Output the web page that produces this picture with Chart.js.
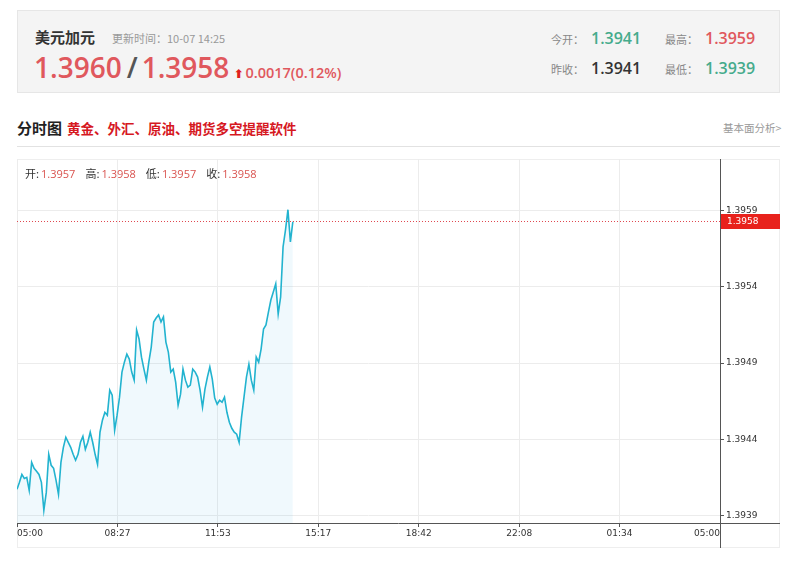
<!DOCTYPE html>
<html>
<head>
<meta charset="utf-8">
<script src="https://cdn.jsdelivr.net/npm/chart.js@4/dist/chart.umd.min.js"></script>
<style>
  body { margin: 0; background: #fff; font-family: "Open Sans", "Noto Sans CJK SC", sans-serif; }
  .abs { position: absolute; white-space: nowrap; }
  #quote { left: 17px; top: 10px; width: 763px; height: 83px; box-sizing: border-box;
           background: #f4f4f4; border: 1px solid #e6e6e6; }
  .name { left: 35px; top: 27px; font: bold 15px "Noto Sans CJK SC"; color: #333; line-height: 20px; }
  .upd  { left: 112px; top: 30px; font: 11px "Noto Sans CJK SC"; color: #999; line-height: 16px; }
  .big  { left: 34px; top: 48px; font: 600 28px "Open Sans"; color: #e0585d; line-height: 38px; }
  .big .sl { color: #555; margin: 0 4px 0 5px; }
  .chg  { font: 600 14.5px "Open Sans"; color: #e0585d; }
  .arr  { font: bold 12px "DejaVu Sans"; color: #e0201c; margin: 0 2px 0 4px; }
  .lab  { font: 11px "Noto Sans CJK SC"; color: #888; line-height: 20px; }
  .val  { font: 600 16px "Open Sans"; line-height: 20px; }
  .green { color: #45ab8c; } .red { color: #e0585d; } .dark { color: #333; }
  .title { left: 17px; top: 117px; font: bold 15px "Noto Sans CJK SC"; color: #222; line-height: 22px; }
  .title .ad { color: #d6181f; font-size: 13.5px; margin-left: 5px; }
  .more { left: 723px; top: 121px; font: 10.5px "Noto Sans CJK SC"; color: #999; line-height: 14px; }
  #sep { left: 17px; top: 146px; width: 763px; height: 1px; background: #e2e2e2; }
  #box { left: 17px; top: 159px; width: 763px; height: 389px; box-sizing: border-box; border: 1px solid #eee; }
  #wrap { left: 17px; top: 159px; width: 763px; height: 389px; }
  .ohlc { left: 25px; top: 166px; font: 11px "Noto Sans CJK SC"; color: #333; line-height: 14px; }
  .ohlc span.v { font-family: "Open Sans"; color: #d9534f; margin: 0 10px 0 2px; }
</style>
</head>
<body>
<div id="quote" class="abs"></div>
<div class="abs name">美元加元</div>
<div class="abs upd">更新时间：10-07 14:25</div>
<div class="abs big">1.3960<span class="sl">/</span>1.3958<span class="arr">⬆</span><span class="chg">0.0017(0.12%)</span></div>
<div class="abs lab" style="left:551px;top:29px">今开：</div>
<div class="abs val green" style="left:591px;top:28px">1.3941</div>
<div class="abs lab" style="left:665px;top:29px">最高：</div>
<div class="abs val red" style="left:705px;top:28px">1.3959</div>
<div class="abs lab" style="left:551px;top:59px">昨收：</div>
<div class="abs val dark" style="left:591px;top:58px">1.3941</div>
<div class="abs lab" style="left:665px;top:59px">最低：</div>
<div class="abs val green" style="left:705px;top:58px">1.3939</div>

<div class="abs title">分时图<span class="ad">黄金、外汇、原油、期货多空提醒软件</span></div>
<div class="abs more">基本面分析&gt;</div>
<div id="sep" class="abs"></div>

<div id="box" class="abs"></div>
<div id="wrap" class="abs"><canvas id="chart" width="763" height="389"></canvas></div>
<div class="abs ohlc">开:<span class="v">1.3957</span>高:<span class="v">1.3958</span>低:<span class="v">1.3957</span>收:<span class="v">1.3958</span></div>

<script>
/* ── Data ─────────────────────────────────────────────────────────────── */
// minutes since 05:00, one price every 5 minutes up to 14:25
const STEP_MIN = 5;
const prices = [
  1.394041, 1.394087, 1.394139, 1.394113, 1.394120, 1.394034, 1.394218, 1.394179, 1.394159, 1.394139,
  1.394087, 1.393903, 1.394021, 1.394271, 1.394199, 1.394179, 1.394100, 1.394008, 1.394218, 1.394317,
  1.394383, 1.394350, 1.394317, 1.394271, 1.394232, 1.394271, 1.394350, 1.394389, 1.394304, 1.394350,
  1.394416, 1.394350, 1.394271, 1.394205, 1.394416, 1.394495, 1.394547, 1.394528, 1.394692, 1.394659,
  1.394429, 1.394528, 1.394646, 1.394811, 1.394876, 1.394929, 1.394896, 1.394811, 1.394758, 1.395087,
  1.395028, 1.394909, 1.394830, 1.394758, 1.394876, 1.394975, 1.395140, 1.395166, 1.395186, 1.395140,
  1.395173, 1.395008, 1.394942, 1.394811, 1.394830, 1.394745, 1.394593, 1.394666, 1.394830, 1.394758,
  1.394712, 1.394725, 1.394830, 1.394811, 1.394778, 1.394692, 1.394580, 1.394699, 1.394778, 1.394844,
  1.394765, 1.394640, 1.394600, 1.394626, 1.394613, 1.394646, 1.394547, 1.394482, 1.394442, 1.394416,
  1.394403, 1.394350, 1.394515, 1.394646, 1.394778, 1.394863, 1.394758, 1.394692, 1.394909, 1.394876,
  1.394962, 1.395094, 1.395120, 1.395205, 1.395284, 1.395337, 1.395390, 1.395192, 1.395304, 1.395633,
  1.395745, 1.395877, 1.395666, 1.395798,
];
const lastPrice = 1.3958;
const dayMinutes = 1440;
const xTickLabels = ['05:00', '08:27', '11:53', '15:17', '18:42', '22:08', '01:34', '05:00'];
const yTicks = [1.39387, 1.39437, 1.39487, 1.39537, 1.39587];
const yMin = 1.39382;
const yMax = 1.39621;

/* ── Helpers ──────────────────────────────────────────────────────────── */
const tickFont = { family: 'DejaVu Sans', size: 9 };
const axisColor = '#555';

// full-length axis lines, last-price dotted line and its red tag
const framePlugin = {
  id: 'frame',
  afterDraw(chart) {
    const { ctx, chartArea: a, width, height } = chart;
    const y = Math.round(chart.scales.y.getPixelForValue(lastPrice));
    ctx.save();
    ctx.strokeStyle = '#e04850';
    ctx.setLineDash([1, 2]);
    ctx.beginPath();
    ctx.moveTo(a.left, y + 0.5);
    ctx.lineTo(a.right, y + 0.5);
    ctx.stroke();
    ctx.setLineDash([]);
    ctx.strokeStyle = axisColor;
    ctx.beginPath();
    ctx.moveTo(a.right + 0.5, 0);
    ctx.lineTo(a.right + 0.5, height);
    ctx.moveTo(a.left, a.bottom + 0.5);
    ctx.lineTo(width, a.bottom + 0.5);
    ctx.stroke();
    ctx.fillStyle = '#e8221c';
    ctx.fillRect(a.right + 1, y - 7, width - a.right - 1, 15);
    ctx.fillStyle = '#fff';
    ctx.font = '9px "DejaVu Sans"';
    ctx.textBaseline = 'middle';
    ctx.fillText(lastPrice.toFixed(4), a.right + 7, y + 1);
    ctx.restore();
  },
};

/* ── Chart setup ──────────────────────────────────────────────────────── */
const ctx = document.getElementById('chart').getContext('2d');
new Chart(ctx, {
  type: 'line',
  data: {
    datasets: [{
      data: prices.map((p, i) => ({ x: i * STEP_MIN, y: p })),
      borderColor: '#22b3cf',
      backgroundColor: 'rgba(40,170,225,0.07)',
      borderWidth: 1.6,
      pointRadius: 0,
      pointHoverRadius: 0,
      tension: 0,
      fill: 'start',
    }],
  },
  options: {
    responsive: false,
    animation: false,
    devicePixelRatio: 1,
    layout: { padding: 0, autoPadding: false },
    plugins: { legend: { display: false }, tooltip: { enabled: false } },
    scales: {
      x: {
        type: 'linear',
        min: 0,
        max: dayMinutes,
        afterBuildTicks: (s) => { s.ticks = xTickLabels.map((l, i) => ({ value: i * dayMinutes / 7 })); },
        afterFit: (s) => { s.height = 25; s.paddingLeft = 0; s.paddingRight = 0; },
        ticks: {
          callback: (v, i) => xTickLabels[i],
          align: 'inner',
          autoSkip: false,
          maxRotation: 0,
          padding: 1,
          color: '#333',
          font: tickFont,
        },
        grid: { color: '#ececec', tickLength: 4, tickColor: axisColor },
        border: { display: false },
      },
      y: {
        position: 'right',
        min: yMin,
        max: yMax,
        afterBuildTicks: (s) => { s.ticks = yTicks.map(v => ({ value: v })); },
        afterFit: (s) => { s.width = 60; s.paddingTop = 0; s.paddingBottom = 0; },
        ticks: {
          callback: (v) => v.toFixed(4),
          padding: 2,
          color: '#333',
          font: tickFont,
        },
        grid: { color: '#ececec', tickLength: 4, tickColor: axisColor },
        border: { display: false },
      },
    },
  },
  plugins: [framePlugin],
});
</script>
</body>
</html>
